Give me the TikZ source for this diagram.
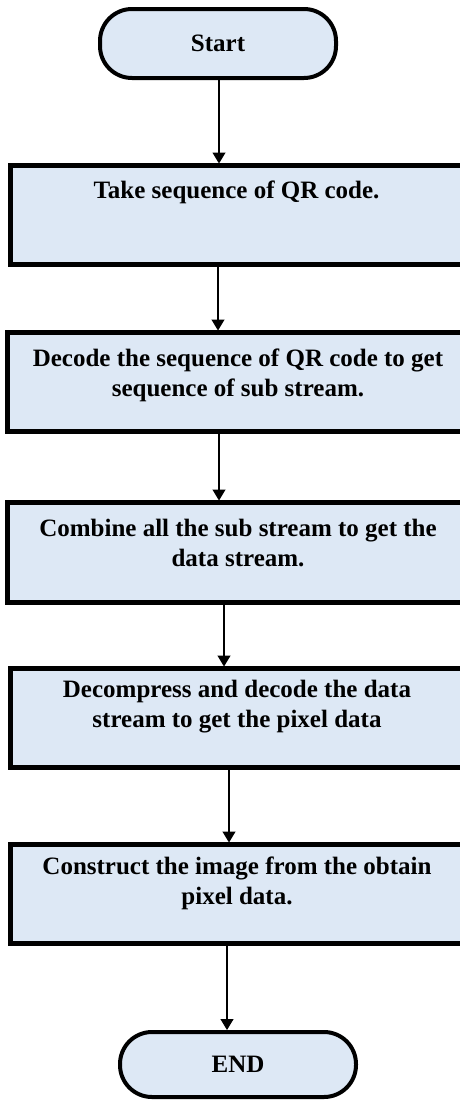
\documentclass[tikz,border=0pt]{standalone}
\usepackage{fontspec}
\setmainfont{Liberation Serif}
\usetikzlibrary{arrows.meta}
\definecolor{boxfill}{RGB}{221,232,245}
\begin{document}
\begin{tikzpicture}[x=1pt,y=-1pt,
  term/.style={draw=black,line width=4pt,fill=boxfill,rounded corners=32pt,minimum width=236pt,inner sep=0pt,outer sep=0pt,font=\fontsize{25}{30}\selectfont\bfseries},
  stepbox/.style={draw=black,line width=5pt,fill=boxfill,minimum width=458pt,minimum height=99pt,inner sep=0pt,outer sep=0pt},
  txt/.style={font=\fontsize{25}{30}\selectfont\bfseries,align=center,inner sep=0pt},
  arr/.style={line width=1.2pt,shorten >=2pt,-{Triangle[length=11pt,width=13pt]}}]
\useasboundingbox (0,0) rectangle (459,1103);
% terminals
\node[term,minimum height=69pt] (start) at (218,43.5) {Start};
\node[term,minimum height=65pt] (end) at (238,1064.5) {END};
% process boxes
\node[stepbox] (b1) at (239,215) {};
\node[stepbox] (b2) at (236.5,382) {};
\node[stepbox,minimum height=100pt] (b3) at (236.5,552.5) {};
\node[stepbox] (b4) at (239,718) {};
\node[stepbox] (b5) at (239,894) {};
% texts
\node[txt] (t1) at (236.5,192) {Take sequence of QR code.};
\node[txt] (t2) at (238,375) {Decode the sequence of QR code to get\\sequence of sub stream.};
\node[txt] (t3) at (238,543) {Combine all the sub stream to get the\\data stream.};
\node[txt] (t4) at (237,707) {Decompress and decode the data\\stream to get the pixel data};
\node[txt] (t5) at (237,883) {Construct the image from the obtain\\pixel data.};
% connectors
\draw[arr] (start.south -| 219,0) -- (b1.north -| 219,0);
\draw[arr] (b1.south -| 218,0) -- (b2.north -| 218,0);
\draw[arr] (b2.south -| 219,0) -- (b3.north -| 219,0);
\draw[arr] (b3.south -| 224,0) -- (b4.north -| 224,0);
\draw[arr] (b4.south -| 229,0) -- (b5.north -| 229,0);
\draw[arr] (b5.south -| 227,0) -- (end.north -| 227,0);
\end{tikzpicture}
\end{document}
